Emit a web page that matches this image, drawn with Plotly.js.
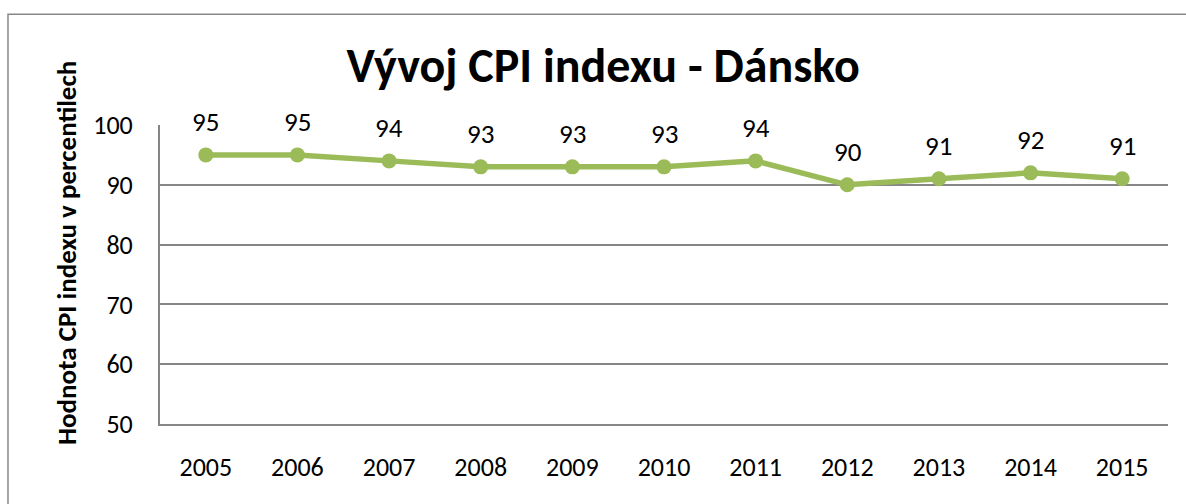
<!DOCTYPE html>
<html>
<head>
<meta charset="utf-8">
<script src="https://cdn.plot.ly/plotly-3.0.1.min.js"></script>
<style>
html,body{margin:0;padding:0;background:#fff;}
#chart{width:1186px;height:504px;}
</style>
</head>
<body>
<div id="chart"></div>
<script>
const years = ["2005","2006","2007","2008","2009","2010","2011","2012","2013","2014","2015"];
const cpiValues = [95, 95, 94, 93, 93, 93, 94, 90, 91, 92, 91];
const yTicks = [50, 60, 70, 80, 90, 100];
const chartTitle = "Vývoj CPI indexu - Dánsko";
const yAxisTitle = "Hodnota CPI indexu v percentilech";

const FONT = "Carlito, Lato, 'Open Sans', sans-serif";
const green = "#9BBB59";

const trace = {
  x: years,
  y: cpiValues,
  type: "scatter",
  mode: "lines+markers",
  line: {color: green, width: 5.5},
  marker: {color: green, size: 15},
  hoverinfo: "x+y",
  showlegend: false
};

const annotations = years.map((yr, i) => ({
  x: i, y: cpiValues[i], xref: "x", yref: "y",
  text: String(cpiValues[i]),
  showarrow: false,
  xanchor: "center", yanchor: "middle",
  yshift: 33,
  font: {family: FONT, size: 27, color: "#000"}
}));

annotations.push({
  xref: "paper", yref: "paper",
  x: -0.093, y: 0.573,
  xanchor: "center", yanchor: "middle",
  textangle: -90,
  showarrow: false,
  text: "<b>" + yAxisTitle + "</b>",
  font: {family: FONT, size: 27, color: "#000"}
});

const layout = {
  width: 1186, height: 504,
  margin: {l: 160, r: 18, t: 125, b: 80},
  paper_bgcolor: "#fff",
  plot_bgcolor: "#fff",
  font: {family: FONT, color: "#000"},
  title: {
    text: "<b>" + chartTitle + "</b>",
    font: {family: FONT, size: 48, color: "#000"},
    x: 0.5085, xref: "container", xanchor: "center",
    y: 0.871, yref: "container", yanchor: "middle"
  },
  xaxis: {
    type: "category",
    range: [-0.5, years.length - 0.5],
    showgrid: false,
    showline: true, linecolor: "#868686", linewidth: 2,
    ticks: "", ticklabelstandoff: 19,
    tickfont: {family: FONT, size: 26, color: "#000"},
    zeroline: false, fixedrange: true
  },
  yaxis: {
    range: [50, 100],
    tickvals: yTicks,
    ticktext: yTicks.map(String),
    showgrid: true, gridcolor: "#868686", gridwidth: 2,
    showline: true, linecolor: "#868686", linewidth: 2,
    ticks: "", ticklabelstandoff: 20,
    tickfont: {family: FONT, size: 26, color: "#000"},
    zeroline: false, fixedrange: true
  },
  shapes: [{
    type: "rect", xref: "paper", yref: "paper",
    x0: -0.1508, x1: 1.2, y0: -0.6, y1: 1.37,
    line: {color: "#888888", width: 1.5},
    fillcolor: "rgba(0,0,0,0)", layer: "below"
  }],
  annotations: annotations
};

Plotly.newPlot("chart", [trace], layout, {displayModeBar: false, staticPlot: true});
</script>
</body>
</html>
